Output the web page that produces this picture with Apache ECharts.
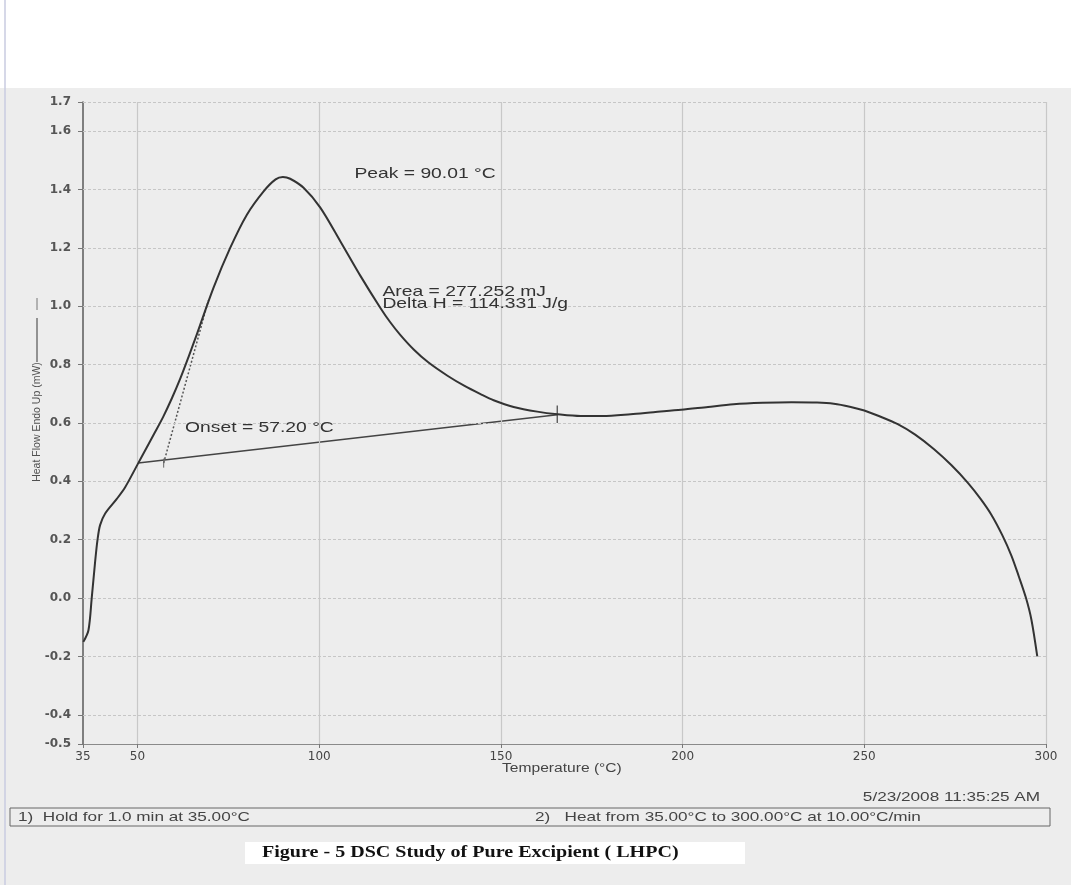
<!DOCTYPE html>
<html><head><meta charset="utf-8">
<script src="https://cdn.jsdelivr.net/npm/echarts@6/dist/echarts.min.js"></script>
<style>html,body{margin:0;padding:0;background:#ececec}#c{width:1071px;height:885px}</style>
</head><body><div id="c"></div>
<script>
// ---- data ----
const temps = [35.1, 36.5, 37.4, 38.3, 39.0, 39.7, 41.1, 44.3, 46.6, 50.1, 52.5, 54.8, 57.1, 59.4, 61.7, 64.0, 66.3, 70.9, 75.5, 80.1, 84.7, 88.0, 90.0, 92.0, 95.7, 100.3, 105.8, 111.3, 116.8, 119.5, 122.3, 126.0, 130.0, 135.3, 140.0, 144.4, 148.0, 153.5, 160.0, 165.6, 171.9, 178.0, 185.7, 192.0, 199.6, 207.0, 214.0, 222.0, 230.0, 237.0, 241.6, 246.0, 250.0, 254.0, 259.2, 264.0, 269.2, 274.0, 278.5, 282.0, 285.0, 288.0, 290.5, 292.5, 294.5, 296.0, 297.6];
const heatFlow = [-0.15, -0.11, 0.0, 0.12, 0.20, 0.25, 0.29, 0.34, 0.38, 0.46, 0.515, 0.568, 0.622, 0.683, 0.75, 0.825, 0.903, 1.063, 1.2, 1.314, 1.394, 1.435, 1.443, 1.437, 1.406, 1.338, 1.223, 1.105, 0.995, 0.946, 0.902, 0.852, 0.808, 0.762, 0.727, 0.699, 0.678, 0.655, 0.639, 0.630, 0.624, 0.624, 0.630, 0.637, 0.645, 0.655, 0.664, 0.669, 0.671, 0.670, 0.666, 0.656, 0.643, 0.624, 0.596, 0.56, 0.51, 0.455, 0.395, 0.34, 0.285, 0.215, 0.145, 0.075, 0.0, -0.075, -0.2];
const xTicks = [35, 50, 100, 150, 200, 250, 300];
const yTicks = [-0.5, -0.4, -0.2, 0.0, 0.2, 0.4, 0.6, 0.8, 1.0, 1.2, 1.4, 1.6, 1.7];
const xGridValues = [50, 100, 150, 200, 250, 300];
const yGridValues = [-0.4, -0.2, 0.0, 0.2, 0.4, 0.6, 0.8, 1.0, 1.2, 1.4, 1.6, 1.7];
const baselinePts = [[50.2, 0.463], [165.5, 0.628]];
const tangentPts = [[57.2, 0.463], [69.5, 1.02]];
const endTickPts = [[165.5, 0.600], [165.5, 0.660]];
const onsetTickPts = [[57.2, 0.447], [57.2, 0.478]];
const annotations = [
  { text: 'Peak = 90.01 °C', x: 109.7, y: 1.452 },
  { text: 'Area = 277.252 mJ', x: 117.4, y: 1.05 },
  { text: 'Delta H = 114.331 J/g', x: 117.4, y: 1.007 },
  { text: 'Onset = 57.20 °C', x: 63.1, y: 0.582 }
];
const yAxisTitle = 'Heat Flow Endo Up (mW)';
const xAxisTitle = 'Temperature (°C)';
const dateText = '5/23/2008 11:35:25 AM';
const step1 = '1)  Hold for 1.0 min at 35.00°C';
const step2 = '2)   Heat from 35.00°C to 300.00°C at 10.00°C/min';
const caption = 'Figure - 5 DSC Study of Pure Excipient ( LHPC)';

// ---- chart ----
const chart = echarts.init(document.getElementById('c'));
const curve = temps.map((t, i) => [t, heatFlow[i]]);
const gridLineStyle = { color: '#c6c6c6', width: 1, type: [3, 2] };
const vGridStyle = { color: '#c8c8c8', width: 1.2, type: 'solid' };

const option = {
  backgroundColor: '#ededed',
  animation: false,
  grid: { left: 83, right: 25, top: 102, bottom: 141 },
  xAxis: {
    type: 'value', min: 35, max: 300,
    axisLine: { show: true, onZero: false, lineStyle: { color: '#8a8a8a', width: 1.2 } },
    axisTick: { show: true, customValues: xTicks, length: 4, lineStyle: { color: '#777' } },
    axisLabel: { customValues: xTicks, color: '#444', fontFamily: 'DejaVu Sans', fontSize: 12, margin: 7 },
    splitLine: { show: false }
  },
  yAxis: {
    type: 'value', min: -0.5, max: 1.7,
    axisLine: { show: true, onZero: false, lineStyle: { color: '#5a5a5a', width: 1.5 } },
    axisTick: { show: true, customValues: yTicks, length: 5, lineStyle: { color: '#777' } },
    axisLabel: { customValues: yTicks, color: '#555', fontFamily: 'DejaVu Sans', fontWeight: 'bold', fontSize: 12, margin: 12,
      formatter: v => Number(v).toFixed(1) },
    splitLine: { show: false }
  },
  series: [
    {
      type: 'line', data: curve, symbol: 'none', smooth: 0.3,
      lineStyle: { color: '#333', width: 2 }, z: 5,
      markLine: {
        silent: true, symbol: 'none', label: { show: false }, animation: false,
        data: [
          ...xGridValues.map(v => ({ xAxis: v, lineStyle: vGridStyle })),
          ...yGridValues.map(v => ({ yAxis: v, lineStyle: gridLineStyle }))
        ]
      }
    },
    { type: 'line', data: baselinePts, symbol: 'none', lineStyle: { color: '#444', width: 1.5 }, z: 4 },
    { type: 'line', data: tangentPts, symbol: 'none', lineStyle: { color: '#555', width: 1.5, type: [2, 2] }, z: 4 },
    { type: 'line', data: endTickPts, symbol: 'none', lineStyle: { color: '#444', width: 1.2 }, z: 4 },
    { type: 'line', data: onsetTickPts, symbol: 'none', lineStyle: { color: '#666', width: 1 }, z: 4 }
  ]
};
chart.setOption(option);

function stretched(text, x, y, size, opts) {
  opts = opts || {};
  return {
    type: 'text', x: x, y: y, scaleX: opts.scaleX || 1.33, rotation: opts.rotation || 0, z: 20,
    style: {
      text: text, fill: opts.fill || '#333',
      font: (opts.weight || 'normal') + ' ' + size + 'px ' + (opts.family || '"Liberation Sans", Arial, sans-serif'),
      textAlign: opts.align || 'left', textVerticalAlign: 'middle'
    }
  };
}

const g = [
  { type: 'rect', shape: { x: 0, y: 0, width: 1071, height: 88 }, style: { fill: '#ffffff' }, z: 0 },
  { type: 'line', shape: { x1: 5, y1: 0, x2: 5, y2: 885 }, style: { stroke: '#c9cbe0', lineWidth: 1.5 }, z: 1 }
];
annotations.forEach(a => {
  const p = chart.convertToPixel({ gridIndex: 0 }, [a.x, a.y]);
  g.push(stretched(a.text, p[0], p[1], 14.5, { fill: '#333' }));
});
// y-axis title + legend line
g.push({
  type: 'text', x: 37, y: 422, rotation: Math.PI / 2, z: 20,
  style: { text: yAxisTitle, fill: '#505050', font: '10.5px "Liberation Sans", Arial, sans-serif', textAlign: 'center', textVerticalAlign: 'middle' }
});
g.push({ type: 'line', shape: { x1: 37, y1: 318, x2: 37, y2: 362 }, style: { stroke: '#555', lineWidth: 1.2 }, z: 20 });
g.push({ type: 'line', shape: { x1: 37, y1: 298, x2: 37, y2: 310 }, style: { stroke: '#777', lineWidth: 1 }, z: 20 });
// x-axis title
g.push(stretched(xAxisTitle, 502, 769, 12, { fill: '#444', scaleX: 1.3 }));
// date
g.push(stretched(dateText, 1040, 797, 13, { fill: '#444', align: 'right', scaleX: 1.32 }));
// method box
g.push({ type: 'rect', shape: { x: 10, y: 808, width: 1040, height: 18 }, style: { fill: 'none', stroke: '#666', lineWidth: 1 }, z: 20 });
g.push(stretched(step1, 18, 817, 13, { fill: '#444', scaleX: 1.32 }));
g.push(stretched(step2, 535, 817, 13, { fill: '#444', scaleX: 1.32 }));
// caption
g.push({ type: 'rect', shape: { x: 245, y: 842, width: 500, height: 22 }, style: { fill: '#ffffff' }, z: 19 });
g.push(stretched(caption, 262, 853, 17, { fill: '#111', weight: 'bold', family: '"Liberation Serif", "Times New Roman", serif', scaleX: 1.18 }));

chart.setOption({ graphic: { elements: g } });
</script>
</body></html>
